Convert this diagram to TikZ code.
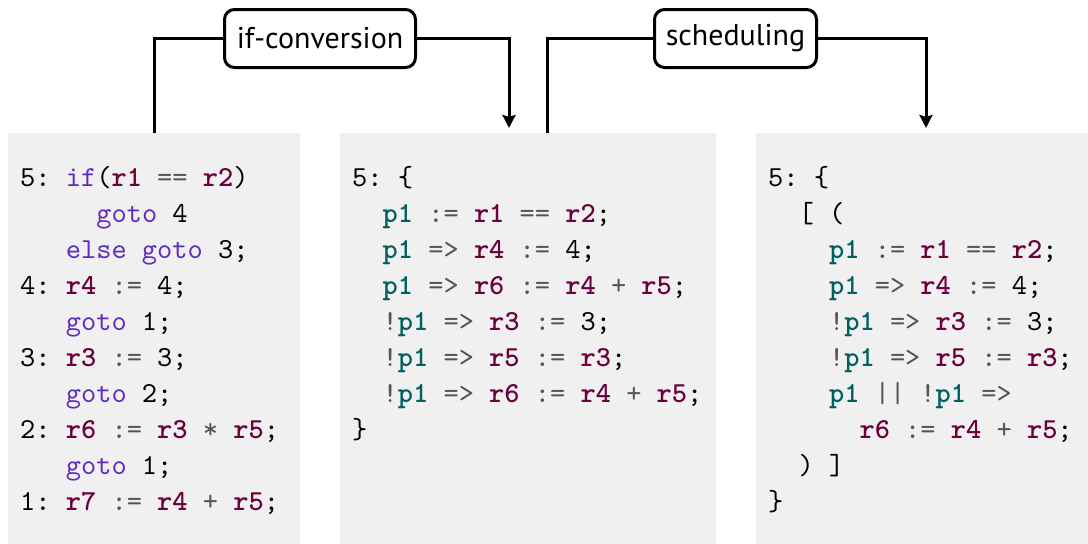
\documentclass[tikz,border=0pt]{standalone}
\usepackage{fontspec}
\setsansfont{PT Sans}
\setmonofont{lmmono10-regular.otf}[BoldFont=lmmonolt10-bold.otf]
\usetikzlibrary{arrows.meta}

\definecolor{panelgray}{RGB}{240,240,240}
\definecolor{kwc}{RGB}{98,42,190}
\definecolor{rgc}{RGB}{108,0,62}
\definecolor{prc}{RGB}{0,96,96}
\definecolor{opc}{RGB}{85,85,85}

% code token styles
\newcommand\kw[1]{\textcolor{kwc}{#1}}
\newcommand\rg[1]{\textcolor{rgc}{\bfseries #1}}
\newcommand\pr[1]{\textcolor{prc}{\bfseries #1}}
\newcommand\op[1]{\textcolor{opc}{#1}}
% indentation by a number of monospace columns
\newcommand\ind[1]{\hspace*{#1\fontcharwd\font`0}}

\begin{document}
\begin{tikzpicture}[x=1pt,y=-1pt,
  panel/.style={fill=panelgray,draw=none,anchor=north west,inner sep=0pt},
  code/.style={anchor=north west,inner sep=0pt,align=left,
    font=\ttfamily\fontsize{29}{36}\selectfont},
  stage/.style={draw,line width=3pt,rounded corners=10pt,
    font=\sffamily\fontsize{30}{36}\selectfont,minimum height=58pt,inner sep=0pt},
  link/.style={line width=3pt},
  arr/.style={link,-{Stealth[length=13pt,width=13pt,inset=2pt]}}]
\useasboundingbox (0,0) rectangle (1088,544);

% code panels
\node[panel,minimum width=292pt,minimum height=411pt] (p1) at (8,133) {};
\node[panel,minimum width=376pt,minimum height=411pt] (p2) at (340,133) {};
\node[panel,minimum width=332pt,minimum height=411pt] (p3) at (756,133) {};

\node[code] (c1) at (20,161) {%
\strut 5: \kw{if}(\rg{r1} \op{==} \rg{r2})\\
\strut\ind5\kw{goto} 4\\
\strut\ind3\kw{else} \kw{goto} 3;\\
\strut 4: \rg{r4} \op{:=} 4;\\
\strut\ind3\kw{goto} 1;\\
\strut 3: \rg{r3} \op{:=} 3;\\
\strut\ind3\kw{goto} 2;\\
\strut 2: \rg{r6} \op{:=} \rg{r3} \op{*} \rg{r5};\\
\strut\ind3\kw{goto} 1;\\
\strut 1: \rg{r7} \op{:=} \rg{r4} \op{+} \rg{r5};};

\node[code] (c2) at (352,161) {%
\strut 5: \{\\
\strut\ind2\pr{p1} \op{:=} \rg{r1} \op{==} \rg{r2};\\
\strut\ind2\pr{p1} \op{=>} \rg{r4} \op{:=} 4;\\
\strut\ind2\pr{p1} \op{=>} \rg{r6} \op{:=} \rg{r4} \op{+} \rg{r5};\\
\strut\ind2\op{!}\pr{p1} \op{=>} \rg{r3} \op{:=} 3;\\
\strut\ind2\op{!}\pr{p1} \op{=>} \rg{r5} \op{:=} \rg{r3};\\
\strut\ind2\op{!}\pr{p1} \op{=>} \rg{r6} \op{:=} \rg{r4} \op{+} \rg{r5};\\
\strut\}};

\node[code] (c3) at (768,161) {%
\strut 5: \{\\
\strut\ind2{[} (\\
\strut\ind4\pr{p1} \op{:=} \rg{r1} \op{==} \rg{r2};\\
\strut\ind4\pr{p1} \op{=>} \rg{r4} \op{:=} 4;\\
\strut\ind4\op{!}\pr{p1} \op{=>} \rg{r3} \op{:=} 3;\\
\strut\ind4\op{!}\pr{p1} \op{=>} \rg{r5} \op{:=} \rg{r3};\\
\strut\ind4\pr{p1} \op{||} \op{!}\pr{p1} \op{=>}\\
\strut\ind6\rg{r6} \op{:=} \rg{r4} \op{+} \rg{r5};\\
\strut\ind2) ]\\
\strut\}};

% transformation steps
\node[stage,minimum width=191pt] (ifc) at (320,38.5) {if-conversion};
\node[stage,minimum width=162pt] (sch) at (735.5,38.5) {scheduling};

\coordinate (in2) at (509,128);
\coordinate (out2) at (547,133);
\coordinate (in3) at (926,128);

\draw[link] (ifc.west) -| (p1.north);
\draw[arr] (ifc.east) -| (in2);
\draw[link] (sch.west) -| (out2);
\draw[arr] (sch.east) -| (in3);
\end{tikzpicture}
\end{document}
